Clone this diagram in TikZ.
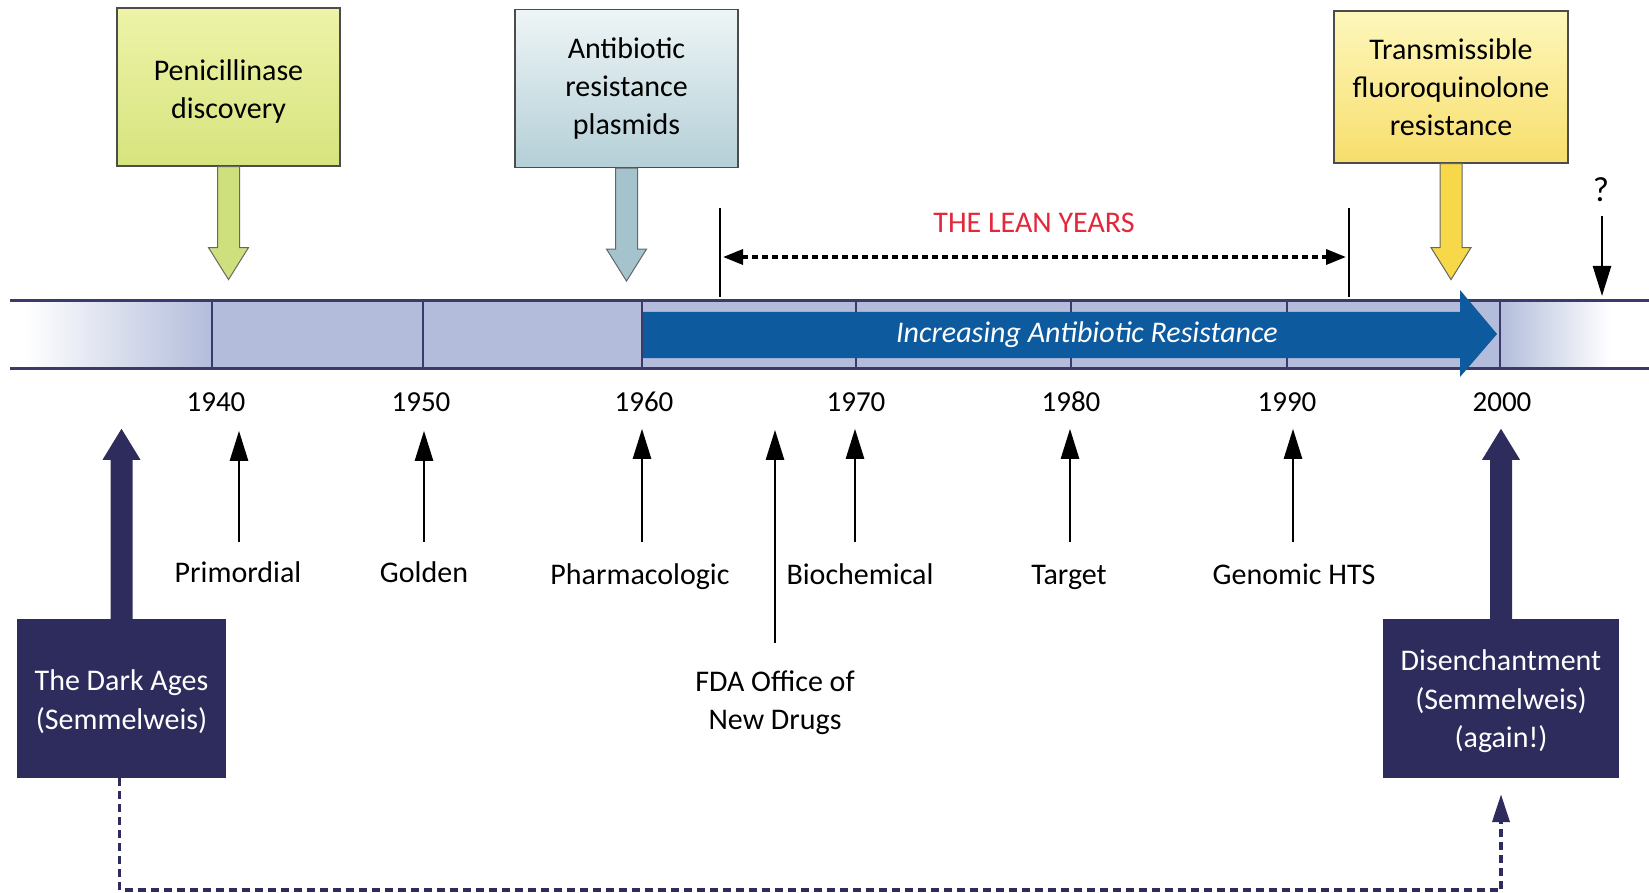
\documentclass[tikz,border=0pt]{standalone}
\usepackage{fontspec}
\setmainfont{Carlito}
\usetikzlibrary{arrows.meta,calc}

\definecolor{navy}{HTML}{2D2C5C}
\definecolor{barline}{HTML}{3B3A6B}
\definecolor{lav}{HTML}{B3BDDB}
\definecolor{resblue}{HTML}{0D5A9E}
\definecolor{leanred}{HTML}{E2283A}
\definecolor{penTop}{HTML}{EEF3A8}
\definecolor{penBot}{HTML}{D6E47E}
\definecolor{penArr}{HTML}{CEDF7E}
\definecolor{plaTop}{HTML}{EEF5F6}
\definecolor{plaBot}{HTML}{B4CFD7}
\definecolor{plaArr}{HTML}{A5C3CC}
\definecolor{fluTop}{HTML}{FDF7BC}
\definecolor{fluBot}{HTML}{F7DE6C}
\definecolor{fluArr}{HTML}{F6D848}

\tikzset{
  eventbox/.style={draw=black!70, line width=1.2pt, minimum height=158pt,
    align=center, font=\fontsize{30}{38}\selectfont, inner sep=0pt},
  erabox/.style={fill=navy, text=white, minimum height=159pt, align=center,
    font=\fontsize{30}{38.5}\selectfont, inner sep=0pt},
  yearlbl/.style={font=\fontsize{29}{35}\selectfont, inner sep=0pt},
  agelbl/.style={font=\fontsize{30}{37}\selectfont, inner sep=0pt, align=center,
    text height=21pt, text depth=7pt},
  thinup/.style={black, line width=2.5pt, -{Triangle[width=18pt,length=30pt]}},
  blockedge/.style={draw=black!60, line width=1pt},
  barrule/.style={barline, line width=3pt},
  tickrule/.style={barline, line width=2pt},
  leanarrow/.style={black, line width=3.4pt, dash pattern=on 6pt off 4pt,
    {Triangle[width=15pt,length=20pt]}-{Triangle[width=15pt,length=20pt]}},
  loopback/.style={navy, line width=3.8pt, dash pattern=on 8pt off 5pt,
    -{Triangle[width=17pt,length=28pt]}},
}

\begin{document}
\begin{tikzpicture}[x=1pt,y=-1pt]
\useasboundingbox (0,0) rectangle (1649,893);

% ---- timeline bar ----
\fill[lav] (212,301) rectangle (1500,368);
\shade[left color=white, right color=lav] (25,301) rectangle (212,368);
\shade[left color=lav, right color=white] (1500,301) rectangle (1610,368);
\foreach \x in {212,423,642,856,1071,1287,1500}
  \draw[tickrule] (\x,301) -- (\x,368);
\draw[barrule] (10,301) -- (1649,301);
\draw[barrule] (10,368) -- (1649,368);

% ---- increasing resistance arrow ----
\fill[resblue] (643,312) -- (1460,312) -- (1460,290) -- (1497,334)
  -- (1460,377) -- (1460,358) -- (643,358) -- cycle;
\node[text=white, font=\itshape\fontsize{30}{36}\selectfont] (incr) at (1087,335)
  {Increasing Antibiotic Resistance};

% ---- year labels ----
\node[yearlbl] (y1940) at (216,402) {1940};
\node[yearlbl] (y1950) at (421,402) {1950};
\node[yearlbl] (y1960) at (644,402) {1960};
\node[yearlbl] (y1970) at (856,402) {1970};
\node[yearlbl] (y1980) at (1071,402) {1980};
\node[yearlbl] (y1990) at (1287,402) {1990};
\node[yearlbl] (y2000) at (1502,402) {2000};

% ---- discovery events ----
\node[eventbox, minimum width=223pt, top color=penTop, bottom color=penBot]
  (pen) at (228.5,87) {};
\node[font=\fontsize{30}{38}\selectfont, align=center, inner sep=0pt] (pentxt)
  at ([yshift=-5pt]pen.center) {Penicillinase\\discovery};
\node[eventbox, minimum width=223pt, top color=plaTop, bottom color=plaBot]
  (pla) at (626.5,88.5) {Antibiotic\\resistance\\plasmids};
\node[eventbox, minimum width=234pt, minimum height=152pt, top color=fluTop, bottom color=fluBot]
  (flu) at (1451,87) {Transmissible\\fluoroquinolone\\resistance};

\filldraw[blockedge, fill=penArr] (pen.south) ++(-11,0) -- ++(0,81) -- ++(-9,0)
  -- ++(20,32) -- ++(20,-32) -- ++(-9,0) -- ++(0,-81) -- cycle;
\filldraw[blockedge, fill=plaArr] (pla.south) ++(-11,0) -- ++(0,81) -- ++(-9,0)
  -- ++(20,32) -- ++(20,-32) -- ++(-9,0) -- ++(0,-81) -- cycle;
\filldraw[blockedge, fill=fluArr] (flu.south) ++(-11,0) -- ++(0,84) -- ++(-9,0)
  -- ++(20,32) -- ++(20,-32) -- ++(-9,0) -- ++(0,-84) -- cycle;

% ---- the lean years ----
\node[text=leanred, font=\fontsize{30}{36}\selectfont, inner sep=0pt] (lean) at (1034,223)
  {THE LEAN YEARS};
\coordinate (leanL) at (720,257);
\coordinate (leanR) at (1349,257);
\draw[black, line width=1.4pt] (leanL |- 0,208) -- (leanL |- 0,297);
\draw[black, line width=1.4pt] (leanR |- 0,208) -- (leanR |- 0,297);
\draw[leanarrow] ([xshift=3pt]leanL) -- ([xshift=-3pt]leanR);

% ---- the future ----
\node[font=\fontsize{35}{40}\selectfont, inner sep=0pt] (qmark) at (1601,190) {?};
\coordinate (qtip) at (1602,296);
\draw[black, line width=2.4pt, -{Triangle[width=18pt,length=30pt]}]
  (qmark.south -| qtip) ++(0,14) -- (qtip);

% ---- ages of discovery ----
\node[agelbl] (prim) at (238,575) {Primordial};
\node[agelbl] (gold) at (424,575) {Golden};
\node[agelbl] (phar) at (640,577) {Pharmacologic};
\node[agelbl] (bioc) at (860,577) {Biochemical};
\node[agelbl] (targ) at (1069,577) {Target};
\node[agelbl] (geno) at (1294,577) {Genomic HTS};
\node[font=\fontsize{30}{38}\selectfont, inner sep=0pt, align=center] (fda) at (775,703)
  {FDA Office of\\New Drugs};

\draw[thinup] ([xshift=1pt,yshift=19pt]prim.north) -- ++(0,-111);
\draw[thinup] ([yshift=19pt]gold.north) -- ++(0,-111);
\draw[thinup] ([xshift=2pt,yshift=21pt]phar.north) -- ++(0,-113);
\draw[thinup] ([xshift=-5pt,yshift=21pt]bioc.north) -- ++(0,-113);
\draw[thinup] ([xshift=1pt,yshift=21pt]targ.north) -- ++(0,-113);
\draw[thinup] ([xshift=-1pt,yshift=21pt]geno.north) -- ++(0,-113);
\draw[thinup] ([yshift=28pt]fda.north) -- ++(0,-213);

% ---- eras ----
\node[erabox, minimum width=209pt] (dark) at (121.5,698.5) {};
\node[text=white, font=\fontsize{30}{38.5}\selectfont, align=center, inner sep=0pt]
  (darktxt) at ([yshift=-3pt]dark.center) {The Dark Ages\\(Semmelweis)};
\node[erabox, minimum width=236pt] (dis) at (1501,698.5) {};
\node[text=white, font=\fontsize{30}{38.5}\selectfont, align=center, inner sep=0pt]
  (distxt) at ([yshift=-3pt]dis.center) {Disenchantment\\(Semmelweis)\\(again!)};

\fill[navy] (dark.north) ++(-11,0) -- ++(0,-159) -- ++(-8,0) -- ++(19,-31)
  -- ++(19,31) -- ++(-8,0) -- ++(0,159) -- cycle;
\fill[navy] (dis.north) ++(-11,0) -- ++(0,-159) -- ++(-8,0) -- ++(19,-31)
  -- ++(19,31) -- ++(-8,0) -- ++(0,159) -- cycle;

\draw[loopback] ([xshift=-2pt]dark.south) -- ++(0,112) -| ([yshift=-16pt]dis.south);
\end{tikzpicture}
\end{document}
